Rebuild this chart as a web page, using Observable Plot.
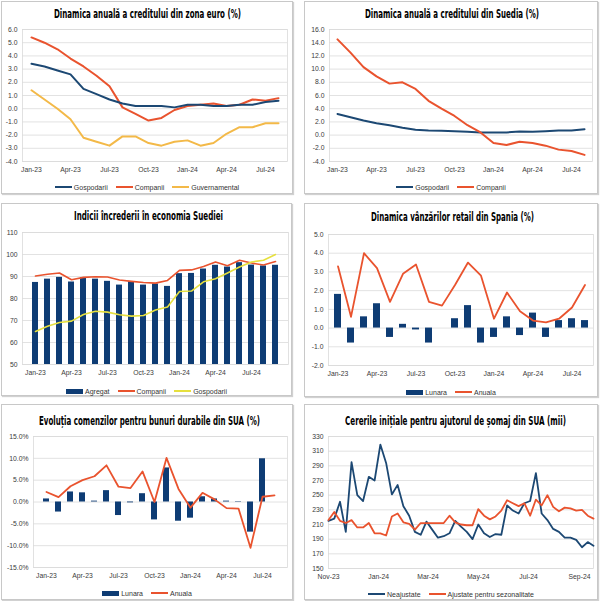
<!DOCTYPE html>
<html><head><meta charset="utf-8">
<script src="https://cdn.jsdelivr.net/npm/d3@7"></script>
<script src="https://cdn.jsdelivr.net/npm/@observablehq/plot@0.6"></script>
<style>
body{margin:0;background:#fff;}
#root{position:relative;width:600px;height:601px;overflow:hidden;background:#fff;font-family:"Liberation Sans",Arial,sans-serif;}
.panel{position:absolute;border:1px solid #c8c8c8;box-sizing:border-box;background:#fff;box-shadow:1px 1px 1px rgba(0,0,0,.18);}
.title{position:absolute;font-family:"Liberation Sans Narrow","DejaVu Sans Condensed",sans-serif;font-weight:bold;font-size:13px;line-height:14px;white-space:nowrap;color:#000;transform-origin:0 50%;}
.legend{position:absolute;display:flex;justify-content:center;align-items:center;height:10px;font-size:7px;color:#333;white-space:nowrap;}
.legend .item{display:flex;align-items:center;margin:0 4px;}
.legend .sw{display:inline-block;width:17px;margin-right:2px;}
</style>
</head><body><div id="root"></div>
<script>
// ---------- categories / tick labels ----------
const months20 = ["Jan-23","Feb-23","Mar-23","Apr-23","May-23","Jun-23","Jul-23","Aug-23","Sep-23","Oct-23","Nov-23","Dec-23",
                  "Jan-24","Feb-24","Mar-24","Apr-24","May-24","Jun-24","Jul-24","Aug-24"];
const months21 = [...months20, "Sep-24"];
const quarterTicks = ["Jan-23","Apr-23","Jul-23","Oct-23","Jan-24","Apr-24","Jul-24"];

// ---------- Panel 1: euro area credit ----------
const ezHouseholds = [3.4,3.2,2.9,2.6,1.5,1.1,0.7,0.4,0.2,0.2,0.2,0.1,0.3,0.3,0.2,0.2,0.3,0.3,0.5,0.6];
const ezCompanies  = [5.4,5.0,4.5,3.8,3.2,2.5,1.7,0.1,-0.4,-0.9,-0.7,-0.1,0.2,0.3,0.4,0.2,0.3,0.7,0.6,0.8];
const ezGovernment = [1.4,0.7,0.0,-0.8,-2.2,-2.5,-2.8,-2.1,-2.1,-2.6,-2.8,-2.5,-2.4,-2.8,-2.6,-1.9,-1.4,-1.4,-1.1,-1.1];
const p1Ticks = [-4,-3,-2,-1,0,1,2,3,4,5,6];

// ---------- Panel 2: Sweden credit ----------
const seHouseholds = [3.2,2.7,2.2,1.8,1.5,1.1,0.8,0.7,0.65,0.6,0.5,0.4,0.4,0.4,0.55,0.5,0.6,0.7,0.7,0.9];
const seCompanies  = [14.5,12.5,10.3,8.9,7.8,8.0,7.0,5.2,4.0,2.9,1.5,0.4,-1.2,-1.5,-1.0,-1.2,-1.6,-2.2,-2.4,-3.0];
const p2Ticks = [-4,-2,0,2,4,6,8,10,12,14,16];

// ---------- Panel 3: Swedish confidence ----------
const confAggregate = [87.3,88.8,89.6,87.5,89.5,88.8,87.8,86.1,87.6,86.1,86.6,85.5,91.3,91.4,93.4,95.1,94.3,96.3,95.2,94.8,95.1];
const confCompanies = [90.2,91.0,91.6,88.5,89.6,89.9,89.8,88.4,87.8,87.3,87.0,88.2,92.8,93.0,94.5,96.6,94.9,97.4,96.1,95.2,96.8];
const confHouseholds= [65.0,67.4,69.1,69.7,72.7,74.2,73.8,72.6,72.0,72.3,74.8,76.1,83.2,83.4,87.6,89.0,91.6,94.3,96.6,97.4,100.0];
const p3Ticks = [50,60,70,80,90,100,110];

// ---------- Panel 4: Spain retail sales ----------
const esMonthly = [1.8,-0.8,0.6,1.3,-0.5,0.2,-0.1,-0.8,0.0,0.5,1.2,-0.8,-0.5,0.6,-0.4,0.8,-0.5,0.4,0.5,0.4];
const esAnnual  = [3.3,0.6,4.0,3.2,1.4,2.9,3.4,1.4,1.2,2.3,3.5,2.8,0.5,1.9,0.9,0.4,0.3,0.5,1.1,2.3];
const p4Ticks = [-2,-1,0,1,2,3,4,5];

// ---------- Panel 5: US durable goods ----------
const usMonthly = [0.7,-2.3,2.3,2.1,0.2,2.6,-3.1,-0.2,1.9,-4.1,7.8,-4.4,-3.7,1.2,0.7,0.2,-0.1,-6.9,9.9,null];
const usAnnual  = [2.3,1.1,3.6,5.0,5.9,8.4,3.5,3.2,7.0,0.0,10.1,3.0,-1.3,2.1,0.6,-1.4,-1.5,-10.5,1.2,1.5];
const p5Ticks = [-15,-10,-5,0,5,10,15];

// ---------- Panel 6: US initial jobless claims (thousands, weekly) ----------
const weeks = ["2023-11-01","2023-11-08","2023-11-15","2023-11-22","2023-11-29","2023-12-06","2023-12-13","2023-12-20","2023-12-27",
  "2024-01-03","2024-01-10","2024-01-17","2024-01-24","2024-01-31","2024-02-07","2024-02-14","2024-02-21","2024-02-28",
  "2024-03-06","2024-03-13","2024-03-20","2024-03-27","2024-04-03","2024-04-10","2024-04-17","2024-04-24",
  "2024-05-01","2024-05-08","2024-05-15","2024-05-22","2024-05-29","2024-06-05","2024-06-12","2024-06-19","2024-06-26",
  "2024-07-03","2024-07-10","2024-07-17","2024-07-24","2024-07-31","2024-08-07","2024-08-14","2024-08-21","2024-08-28",
  "2024-09-04","2024-09-11","2024-09-18"];
const claimsNSA = [215,218,241,200,295,250,242,275,270,319,294,251,264,235,222,200,196,214,203,192,194,198,215,207,200,190,
  210,198,193,197,196,236,229,225,239,242,280,225,216,204,200,192,192,189,179,186,181];
const claimsSA  = [216,227,215,212,216,206,206,212,198,198,195,221,225,213,211,203,212,212,212,212,212,222,213,210,209,209,
  231,222,217,221,229,243,239,235,239,222,244,236,250,234,228,233,232,229,230,222,218];
const p6Ticks = [150,170,190,210,230,250,270,290,310,330];
const p6XTicks = ["2023-11-01","2024-01-01","2024-03-01","2024-05-01","2024-07-01","2024-09-01"];

// ---------- colours ----------
const NAVY = "#1c4873", BAR = "#0e3c74", RED = "#e9532e", GOLD = "#f3b948", YEL = "#e6e03e", GRID = "#dadada";

const root = document.getElementById("root");
const baseStyle = {background:"transparent", fontSize:"6.8px", fontFamily:"'Liberation Sans', Arial, sans-serif", color:"#3a3a3a", overflow:"visible"};

function panel(p){
  const [bx0,by0,bx1,by1] = p.box;
  const box = document.createElement("div");
  box.className = "panel";
  Object.assign(box.style,{left:bx0+"px",top:by0+"px",width:(bx1-bx0)+"px",height:(by1-by0)+"px"});
  root.append(box);
  const [l,t,r,b] = p.plot;
  const sx = bx0+1, sy = t-10, sw = bx1-bx0-2, sh = (b+18)-sy;
  const chart = Plot.plot({
    width: sw, height: sh,
    marginLeft: l-sx, marginRight: sx+sw-r, marginTop: t-sy, marginBottom: sy+sh-b,
    style: baseStyle,
    x: p.x, y: p.y,
    marks: p.marks
  });
  Object.assign(chart.style,{position:"absolute",left:sx+"px",top:sy+"px"});
  root.append(chart);
  // title
  const ti = document.createElement("div");
  ti.className = "title"; ti.textContent = p.title;
  root.append(ti);
  const w = ti.getBoundingClientRect().width;
  Object.assign(ti.style,{left:(p.titleC[0]-p.titleW/2)+"px", top:(p.titleC[1]-7)+"px", transform:`scaleX(${p.titleW/w})`});
  // legend
  const lg = document.createElement("div");
  lg.className = "legend";
  Object.assign(lg.style,{left:bx0+"px", width:(bx1-bx0)+"px", top:(p.legendY-5)+"px"});
  for (const it of p.legend){
    const item = document.createElement("span"); item.className="item";
    const sw_ = document.createElement("span"); sw_.className="sw";
    sw_.style.background = it.color; sw_.style.height = it.bar ? "5px" : "2px";
    const tx = document.createElement("span"); tx.textContent = it.label;
    item.append(sw_, tx); lg.append(item);
  }
  root.append(lg);
}

const fmt1 = d => d.toFixed(1);
const axX = (domain, extra={}) => ({domain, tickSize:0, tickPadding:6, label:null, ...extra});
const axY = (domain, ticks, tickFormat) => ({domain, ticks, tickFormat, tickSize:0, tickPadding:5, label:null});
const grid = ticks => Plot.ruleY(ticks, {stroke:GRID, strokeWidth:0.8});
const frame = () => Plot.frame({stroke:GRID, strokeWidth:0.8});
const line = (vals, xs, color, w=2) => Plot.lineY(vals, {x: xs, y: d => d, stroke: color, strokeWidth: w, curve:"linear"});

// Panel 1
panel({
  box:[1,1,293,194], plot:[22,29,287,161],
  title:"Dinamica anuală a creditului din zona euro (%)", titleC:[147,14], titleW:187,
  x: axX(months20,{type:"point", padding:0, ticks:quarterTicks}),
  y: axY([-4,6], p1Ticks, fmt1),
  marks:[grid(p1Ticks), frame(),
    line(ezGovernment, months20, GOLD), line(ezCompanies, months20, RED), line(ezHouseholds, months20, NAVY)],
  legendY:187,
  legend:[{label:"Gospodarii",color:NAVY},{label:"Companii",color:RED},{label:"Guvernamental",color:GOLD}]
});

// Panel 2
panel({
  box:[304,1,598,194], plot:[329,29,592,161],
  title:"Dinamica anuală a creditului din Suedia (%)", titleC:[452,14], titleW:174,
  x: axX(months20,{type:"point", padding:0, ticks:quarterTicks}),
  y: axY([-4,16], p2Ticks, fmt1),
  marks:[grid(p2Ticks), frame(),
    line(seHouseholds, months20, NAVY), line(seCompanies, months20, RED)],
  legendY:187,
  legend:[{label:"Gospodarii",color:NAVY},{label:"Companii",color:RED}]
});

// Panel 3
panel({
  box:[1,203,292,396], plot:[22,232,288,364],
  title:"Indicii încrederii în economia Suediei", titleC:[148,216], titleW:149,
  x: axX(months21,{type:"band", paddingInner:0.46, paddingOuter:0.23, ticks:quarterTicks}),
  y: axY([50,110], p3Ticks, d => String(d)),
  marks:[grid(p3Ticks), frame(),
    Plot.barY(confAggregate, {x: months21, y1: 50, y2: d => d, fill: BAR}),
    line(confCompanies, months21, RED, 1.6), line(confHouseholds, months21, YEL, 1.6)],
  legendY:391,
  legend:[{label:"Agregat",color:BAR,bar:true},{label:"Companii",color:RED},{label:"Gospodarii",color:YEL}]
});

// Panel 4
panel({
  box:[304,203,598,397], plot:[328,234,593,365],
  title:"Dinamica vânzărilor retail din Spania (%)", titleC:[452,217], titleW:163,
  x: axX(months20,{type:"band", paddingInner:0.5, paddingOuter:0.25, ticks:quarterTicks}),
  y: axY([-2,5], p4Ticks, fmt1),
  marks:[grid(p4Ticks), frame(),
    Plot.barY(esMonthly, {x: months20, y: d => d, fill: BAR}),
    line(esAnnual, months20, RED, 1.8)],
  legendY:392,
  legend:[{label:"Lunara",color:BAR,bar:true},{label:"Anuala",color:RED}]
});

// Panel 5
panel({
  box:[1,404,293,600], plot:[33,436,287,567],
  title:"Evoluția comenzilor pentru bunuri durabile din SUA (%)", titleC:[149,421], titleW:221,
  x: axX(months20,{type:"band", paddingInner:0.46, paddingOuter:0.23, ticks:quarterTicks}),
  y: axY([-15,15], p5Ticks, d => d.toFixed(1)+"%"),
  marks:[grid(p5Ticks), frame(),
    Plot.barY(usMonthly, {x: months20, y: d => d, fill: BAR, filter: d => d != null}),
    line(usAnnual, months20, RED, 1.8)],
  legendY:593,
  legend:[{label:"Lunara",color:BAR,bar:true},{label:"Anuala",color:RED}]
});

// Panel 6
const weekDates = weeks.map(d => new Date(d+"T00:00:00Z"));
const xTick6 = p6XTicks.map(d => new Date(d+"T00:00:00Z"));
panel({
  box:[304,404,598,600], plot:[328,436,593,568],
  title:"Cererile inițiale pentru ajutorul de șomaj din SUA (mii)", titleC:[455,421], titleW:221,
  x: {type:"utc", domain:[weekDates[0], weekDates[weekDates.length-1]], ticks:xTick6, tickFormat:d3.utcFormat("%b-%y"), tickSize:0, tickPadding:6, label:null},
  y: axY([150,330], p6Ticks, d => String(d)),
  marks:[grid(p6Ticks), frame(),
    line(claimsNSA, weekDates, NAVY, 1.8), line(claimsSA, weekDates, RED, 1.8)],
  legendY:594,
  legend:[{label:"Neajustate",color:NAVY},{label:"Ajustate pentru sezonalitate",color:RED}]
});
</script></body></html>
